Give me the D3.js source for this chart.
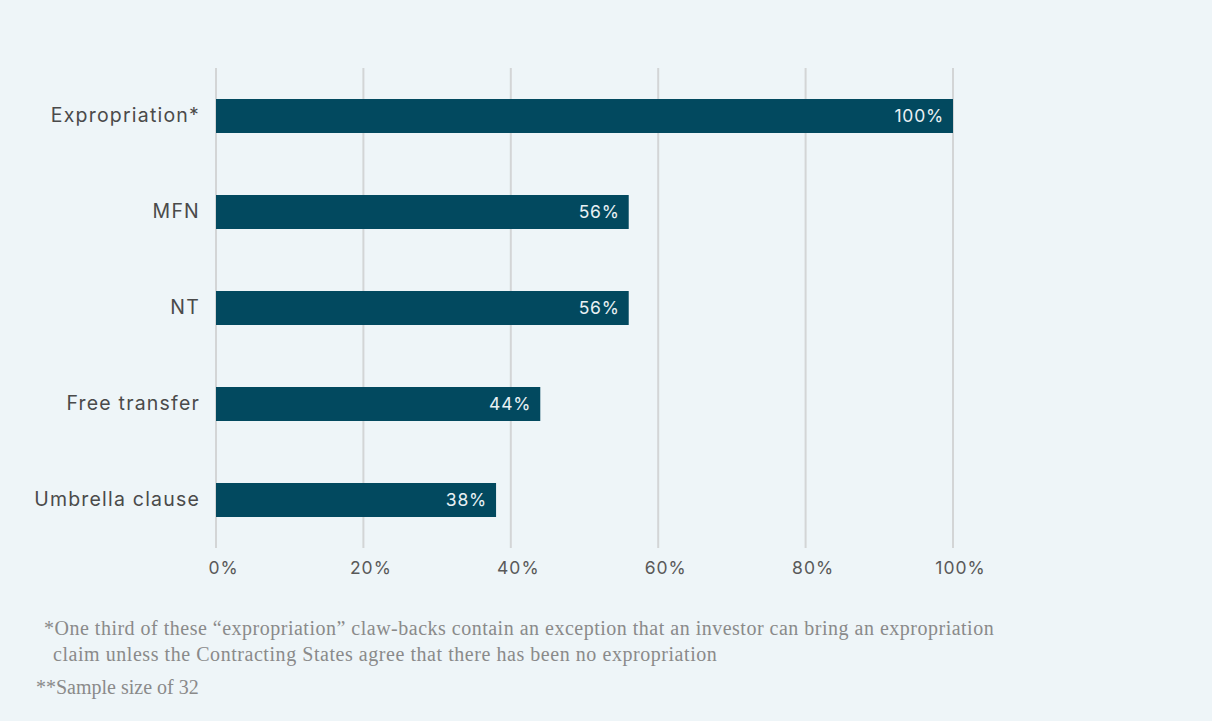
<!DOCTYPE html>
<html>
<head>
<meta charset="utf-8">
<script src="https://cdn.jsdelivr.net/npm/d3@7/dist/d3.min.js"></script>
<style>
  html, body { margin: 0; padding: 0; background: #eef5f8; }
  svg { display: block; }
</style>
</head>
<body>
<svg id="chart" width="1212" height="721"></svg>
<script>
// Share of claw-back provisions by treaty standard
const categories = ["Expropriation*", "MFN", "NT", "Free transfer", "Umbrella clause"];
const values = [100, 56, 56, 44, 38];
const tickValues = [0, 20, 40, 60, 80, 100];
const footnotes = [
  "*One third of these \u201cexpropriation\u201d claw-backs contain an exception that an investor can bring an expropriation",
  "claim unless the Contracting States agree that there has been no expropriation",
  "**Sample size of 32"
];

const svg = d3.select("#chart");
const W = 1212, H = 721;

svg.append("rect").attr("width", W).attr("height", H).attr("fill", "#eef5f8");

const margin = { left: 216, right: 259, top: 68, bottom: 173 };
const x = d3.scaleLinear().domain([0, 100]).range([margin.left, W - margin.right]);
const y = d3.scaleBand().domain(categories)
  .range([margin.top, H - margin.bottom])
  .paddingInner(0.646).paddingOuter(0.323);

const sansFont = "'Inter', 'Roboto', sans-serif";

// Vertical gridlines
svg.append("g").selectAll("line").data(tickValues).join("line")
  .attr("x1", d => x(d)).attr("x2", d => x(d))
  .attr("y1", margin.top).attr("y2", H - margin.bottom)
  .attr("stroke", "#d3d5d6").attr("stroke-width", 2);

// X axis tick labels
const xAxis = d3.axisBottom(x).tickValues(tickValues).tickFormat(d => d + "%").tickSize(0).tickPadding(0);
const gx = svg.append("g").attr("transform", `translate(7,${H - margin.bottom + 14})`).call(xAxis);
gx.select(".domain").remove();
gx.selectAll("text")
  .attr("dy", "0.71em")
  .attr("fill", "#595959")
  .style("font-family", sansFont)
  .style("font-size", "17.5px")
  .style("letter-spacing", "1px");

// Y axis category labels
const yAxis = d3.axisLeft(y).tickSize(0).tickPadding(16);
const gy = svg.append("g").attr("transform", `translate(${margin.left},0)`).call(yAxis);
gy.select(".domain").remove();
gy.selectAll("text")
  .attr("fill", "#4a4a4a")
  .style("font-family", sansFont)
  .style("font-size", "19.5px")
  .style("letter-spacing", "1.2px");

// Bars
const data = categories.map((c, i) => ({ c, v: values[i] }));
svg.append("g").selectAll("rect").data(data).join("rect")
  .attr("x", x(0))
  .attr("y", d => y(d.c))
  .attr("width", d => x(d.v) - x(0))
  .attr("height", y.bandwidth())
  .attr("fill", "#02495f");

// Value labels inside bar ends
svg.append("g").selectAll("text").data(data).join("text")
  .attr("x", d => x(d.v) - 9)
  .attr("y", d => y(d.c) + y.bandwidth() / 2)
  .attr("dy", "0.36em")
  .attr("text-anchor", "end")
  .attr("fill", "#e9f1f4")
  .style("font-family", sansFont)
  .style("font-size", "17.5px")
  .style("letter-spacing", "0.8px")
  .text(d => d.v + "%");

// Footnotes
const notePos = [[44, 635, 0.5], [53, 661, 0.55], [36, 694, 0]];
svg.append("g").selectAll("text").data(footnotes).join("text")
  .attr("x", (d, i) => notePos[i][0])
  .attr("y", (d, i) => notePos[i][1])
  .attr("fill", "#8a8a8a")
  .style("font-family", "'Liberation Serif', 'DejaVu Serif', serif")
  .style("font-size", "20px")
  .style("letter-spacing", (d, i) => notePos[i][2] + "px")
  .text(d => d);
</script>
</body>
</html>
